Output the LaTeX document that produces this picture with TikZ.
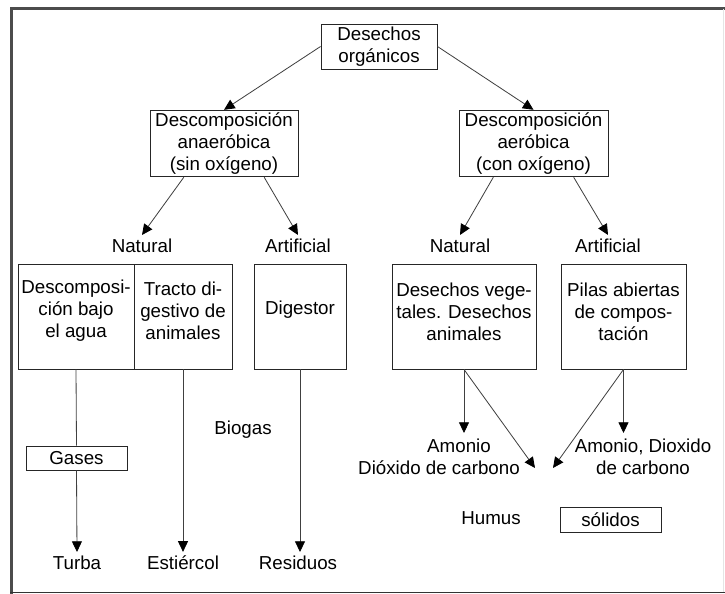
\documentclass[tikz,border=0pt]{standalone}
\usepackage{fontspec}
\setmainfont{Liberation Sans}
\usetikzlibrary{arrows.meta}
\begin{document}
\begin{tikzpicture}[x=0.03cm,y=-0.03cm,font=\fontsize{16}{18.8}\selectfont,
caja/.style={draw=black!85,line width=0.8pt,inner sep=2pt,align=center},
flecha/.style={draw=black!75,line width=0.7pt,-{Triangle[length=3.2mm,width=3mm,black]}},
linea/.style={draw=black!75,line width=0.7pt}]
\useasboundingbox (0,0) rectangle (725,594);
\draw[gray!60!black,line width=2.5pt](11.5,594)--(11.5,8.5)--(725,8.5);
\draw[black!80,line width=1.5pt](10,592.5)--(725,592.5);
\draw[gray!20,line width=0.6pt](723,9)--(723,592);
\node[caja,minimum width=3.48cm,minimum height=1.35cm](desechos) at (379,46.5){Desechos\\orgánicos};
\node[caja,minimum width=4.44cm,minimum height=1.95cm](anaer) at (224,143.5){Descomposición\\anaeróbica\\(sin oxígeno)};
\node[caja,minimum width=4.47cm,minimum height=1.95cm](aer) at (533.5,143.5){Descomposición\\aeróbica\\(con oxígeno)};
\node(natA) at (142,246){Natural};
\node(artA) at (298,246){Artificial};
\node(natB) at (460,246){Natural};
\node(artB) at (608,246){Artificial};
\node[caja,minimum width=3.48cm,minimum height=3.15cm,label={[align=center,yshift=0.165cm]center:{Descomposi-\\ción bajo\\el agua}}](agua) at (76,316.5){};
\node[caja,minimum width=2.94cm,minimum height=3.15cm,label={[align=center,yshift=0.165cm]center:{Tracto di-\\gestivo de\\animales}}](tracto) at (183,316.5){};
\node[caja,minimum width=2.76cm,minimum height=3.15cm,label={[yshift=0.22cm]center:Digestor}](digestor) at (300,316.5){};
\node[caja,minimum width=4.32cm,minimum height=3.15cm,label={[align=center,yshift=0.15cm]center:{Desechos vege-\\tales. Desechos\\animales}}](vegetal) at (464,316.5){};
\node[caja,minimum width=3.75cm,minimum height=3.15cm,label={[align=center,yshift=0.15cm]center:{Pilas abiertas\\de compos-\\tación}}](pilas) at (623.5,316.5){};
\node[caja,minimum width=3.03cm,minimum height=0.72cm](gases) at (76.5,458){Gases};
\node(biogas) at (243,430){Biogas};
\node(turba) at (77,563){Turba};
\node(estiercol) at (183,563){Estiércol};
\node(residuos) at (298,563){Residuos};
\node(amonio) at (459,446){Amonio};
\node(dioxido) at (439,468){Dióxido de carbono};
\node[align=center](amonioB) at (643,457){Amonio, Dioxido\\de carbono};
\node(humus) at (491,518){Humus};
\node[caja,minimum width=3.03cm,minimum height=0.75cm](solidos) at (610.5,519.5){sólidos};
\coordinate(gasA) at (464,433);
\coordinate(gasB) at (623.5,433);
\coordinate(humA) at (535,468);
\coordinate(humB) at (553,468);
\draw[flecha](desechos.west)--(anaer.north);
\draw[flecha](desechos.east)--(aer.north);
\draw[flecha](anaer.220)--(natA.north);
\draw[flecha](anaer.320)--(artA.north);
\draw[flecha](aer.220)--(natB.north);
\draw[flecha](aer.320)--(artB.north);
\draw[linea](agua.south)--(gases.north);
\draw[flecha](gases.south)--(turba.north);
\draw[flecha](tracto.south)--(estiercol.north);
\draw[flecha](digestor.south)--(digestor.south|-residuos.north);
\draw[flecha](vegetal.south)--(gasA);
\draw[flecha](vegetal.south)--(humA);
\draw[flecha](pilas.south)--(gasB);
\draw[flecha](pilas.south)--(humB);
\end{tikzpicture}
\end{document}
